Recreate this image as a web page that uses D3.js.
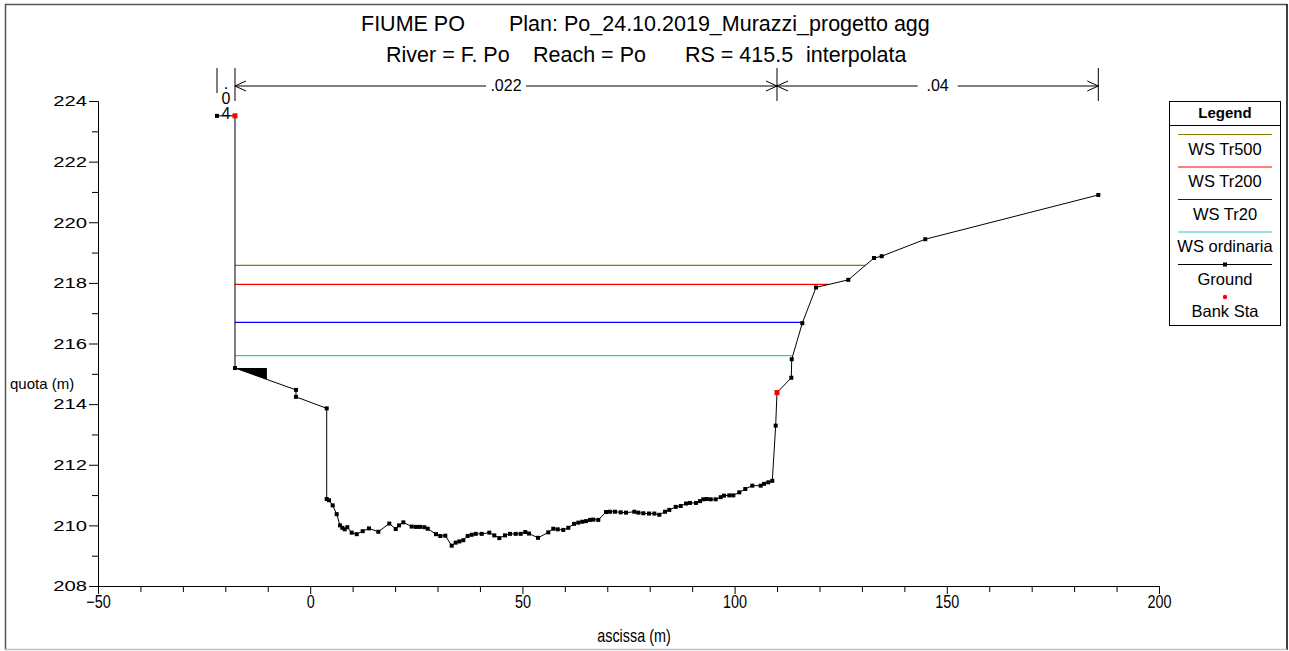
<!DOCTYPE html>
<html>
<head>
<meta charset="utf-8">
<script src="https://cdn.jsdelivr.net/npm/d3@7"></script>
<style>
  body { margin: 0; background: #fff; }
  svg { font-family: "Liberation Sans", Arial, sans-serif; }
</style>
</head>
<body>
<div id="chart"></div>
<script>
// ground profile (station, elevation)
const groundX = [-21.96, -17.72, -17.72, -3.35, -3.35, 3.89, 3.89, 4.43, 5.30, 6.24, 7.02, 7.56, 8.13, 8.74, 9.78, 10.96,
  12.37, 13.85, 16.05, 18.64, 20.15, 20.92, 21.94, 23.92, 24.93, 25.87, 26.89, 27.69, 29.64, 30.66, 31.83, 33.34,
  34.28, 35.13, 36.07, 37.11, 38.05, 39.00, 40.41, 42.20, 43.38, 44.56, 45.90, 47.08, 48.42, 49.60, 50.68, 51.56,
  53.68, 56.10, 57.28, 58.32, 59.64, 60.82, 62.16, 63.17, 64.11, 64.99, 65.93, 66.71, 67.88, 69.70, 70.64, 71.82,
  73.16, 74.41, 76.37, 77.31, 78.49, 79.83, 81.08, 82.26, 83.60, 84.61, 86.12, 87.30, 88.55, 89.49, 90.90, 91.85,
  92.62, 93.43, 94.37, 95.55, 96.72, 97.50, 98.75, 99.69, 101.11, 102.52, 104.17, 106.15, 106.93, 107.94, 108.88,
  109.68, 109.99, 113.36, 113.46, 115.95, 119.18, 126.79, 132.85, 134.66, 144.93, 185.70];
const groundY = [223.51, 223.51, 215.19, 214.47, 214.24, 213.86, 210.87, 210.83, 210.66, 210.37, 210.00, 209.92, 209.87, 209.94, 209.76, 209.71,
  209.81, 209.90, 209.79, 210.06, 209.88, 210.00, 210.10, 209.96, 209.95, 209.95, 209.94, 209.89, 209.71, 209.65, 209.66, 209.33,
  209.43, 209.47, 209.51, 209.65, 209.69, 209.72, 209.72, 209.76, 209.67, 209.58, 209.67, 209.72, 209.72, 209.72, 209.78, 209.73,
  209.59, 209.77, 209.89, 209.87, 209.85, 209.92, 210.05, 210.09, 210.12, 210.14, 210.18, 210.19, 210.18, 210.44, 210.45, 210.45,
  210.43, 210.42, 210.45, 210.42, 210.40, 210.39, 210.39, 210.35, 210.45, 210.51, 210.61, 210.64, 210.72, 210.74, 210.74, 210.80,
  210.86, 210.87, 210.86, 210.86, 210.93, 210.98, 210.99, 210.99, 211.09, 211.20, 211.31, 211.31, 211.37, 211.42, 211.47,
  213.29, 214.38, 214.87, 215.48, 216.67, 217.85, 218.10, 218.82, 218.88, 219.44, 220.90];

const bankX = [-17.72, 109.99];
const bankY = [223.51, 214.38];

const wsNames = ["WS Tr500", "WS Tr200", "WS Tr20", "WS ordinaria"];
const wsElev = [218.58, 217.95, 216.70, 215.60];

// Manning's n
const nStations = [-21.96, -17.72, 109.99, 185.70];
const nValues = [".04", ".022", ".04"];

// blocked obstruction (left overbank)
const blockX = [-17.72, -10.2];
const blockElev = 215.19;

const xTicks = [-50, 0, 50, 100, 150, 200];
const yTicks = [208, 210, 212, 214, 216, 218, 220, 222, 224];

const wsColors = ["#808000", "#ff0000", "#0000ff", "#30c8c8"];

const W = 1289, H = 651;
const svg = d3.select("#chart").append("svg").attr("width", W).attr("height", H);

// frame
svg.append("line").attr("x1", 5).attr("y1", 4.5).attr("x2", 1287).attr("y2", 4.5).attr("stroke", "#555").attr("stroke-width", 1.5);
svg.append("line").attr("x1", 5.5).attr("y1", 4).attr("x2", 5.5).attr("y2", 650).attr("stroke", "#555").attr("stroke-width", 1.5);
svg.append("line").attr("x1", 1287).attr("y1", 4).attr("x2", 1287).attr("y2", 650).attr("stroke", "#000").attr("stroke-width", 1.5);
svg.append("line").attr("x1", 5).attr("y1", 649.5).attr("x2", 1287).attr("y2", 649.5).attr("stroke", "#c0c0c0").attr("stroke-width", 1.5);

const x = d3.scaleLinear().domain([-50, 200]).range([98, 1159]);
const y = d3.scaleLinear().domain([208, 224]).range([586, 101]);

// title
const t1 = svg.append("text").attr("y", 31).style("font-size", "21.5px").attr("fill", "#000");
t1.append("tspan").attr("x", 361).text("FIUME PO");
t1.append("tspan").attr("x", 509).text("Plan: Po_24.10.2019_Murazzi_progetto agg");
const t2 = svg.append("text").attr("y", 62).style("font-size", "21.5px").attr("fill", "#000");
t2.append("tspan").attr("x", 386).text("River = F. Po");
t2.append("tspan").attr("x", 533).text("Reach = Po");
t2.append("tspan").attr("x", 685).text("RS = 415.5");
t2.append("tspan").attr("x", 806).text("interpolata");

// axes
const yAxis = svg.append("g").attr("transform", "translate(98,0)")
  .call(d3.axisLeft(y).tickValues(yTicks).tickFormat(d3.format("d")).tickSize(9).tickSizeOuter(0));
svg.append("g").attr("transform", "translate(98,0)")
  .call(d3.axisLeft(y).tickValues(d3.range(209, 224, 2)).tickFormat("").tickSize(6).tickSizeOuter(0));
yAxis.selectAll("text").style("font-size", "15px").attr("fill", "#000")
  .attr("x", -11 / 1.35).attr("transform", "scale(1.35,1)");

const xAxis = svg.append("g").attr("transform", "translate(0,586)")
  .call(d3.axisBottom(x).tickValues(xTicks).tickFormat(d3.format("d")).tickSize(8).tickSizeOuter(0));
svg.append("g").attr("transform", "translate(0,586)")
  .call(d3.axisBottom(x).tickValues(d3.range(-40, 200, 10).filter(v => v % 50 !== 0)).tickFormat("").tickSize(6).tickSizeOuter(0));
xAxis.selectAll(".tick text").style("font-size", "18px").attr("fill", "#000").attr("y", 9)
  .attr("transform", "scale(0.8,1)");
svg.selectAll(".domain").attr("stroke", "#000");
svg.selectAll(".tick line").attr("stroke", "#000");

svg.append("text").attr("transform", "translate(634,642) scale(0.8,1)").attr("text-anchor", "middle")
  .style("font-size", "18px").text("ascissa (m)");
svg.append("text").attr("x", 10).attr("y", 389).style("font-size", "15px").text("quota (m)");

// water surfaces
const ground = groundX.map((v, i) => [v, groundY[i]]);
const iMin = d3.minIndex(groundY);
function crossing(elev, dir) {
  let i = iMin;
  while (i + dir >= 0 && i + dir < ground.length && ground[i + dir][1] < elev) i += dir;
  const a = ground[i], b = ground[i + dir];
  if (!b) return a[0];
  const t = (elev - a[1]) / (b[1] - a[1]);
  return a[0] + t * (b[0] - a[0]);
}
wsElev.forEach((e, k) => {
  const xl = crossing(e, -1), xr = crossing(e, 1);
  svg.append("line").attr("x1", x(xl)).attr("x2", x(xr)).attr("y1", y(e)).attr("y2", y(e))
    .attr("stroke", wsColors[k]).attr("stroke-width", 1.2);
});

// blocked obstruction
function groundAt(v) {
  for (let i = 1; i < ground.length; i++) {
    const a = ground[i - 1], b = ground[i];
    if (v >= a[0] && v <= b[0] && b[0] > a[0]) return a[1] + (v - a[0]) / (b[0] - a[0]) * (b[1] - a[1]);
  }
  return null;
}
svg.append("path")
  .attr("d", d3.line()([[x(blockX[0]), y(blockElev)], [x(blockX[1]), y(blockElev)], [x(blockX[1]), y(groundAt(blockX[1]))], [x(blockX[0]), y(groundAt(blockX[0] + 0.001))]]) + "Z")
  .attr("fill", "#000");

// ground
svg.append("path").datum(ground)
  .attr("d", d3.line().x(d => x(d[0])).y(d => y(d[1])))
  .attr("fill", "none").attr("stroke", "#000").attr("stroke-width", 1);
svg.selectAll(".gpt").data(ground).enter().append("rect")
  .attr("x", d => x(d[0]) - 2).attr("y", d => y(d[1]) - 2).attr("width", 4).attr("height", 4).attr("fill", "#000");
svg.selectAll(".bank").data(bankX).enter().append("rect")
  .attr("x", d => x(d) - 2.5).attr("y", (d, i) => y(bankY[i]) - 2.5).attr("width", 5).attr("height", 5).attr("fill", "#ff0000");

// Manning's n dimension line
const dimY = 86;
nStations.forEach(s => {
  svg.append("line").attr("x1", x(s)).attr("x2", x(s)).attr("y1", 68).attr("y2", s === nStations[0] ? 93 : 101)
    .attr("stroke", "#000");
});
function arrowHead(px, dir) {
  svg.append("path").attr("d", `M${px - dir * 11},${dimY - 5}L${px},${dimY}L${px - dir * 11},${dimY + 5}`)
    .attr("fill", "none").attr("stroke", "#000");
}
nValues.forEach((n, i) => {
  const a = x(nStations[i]), b = x(nStations[i + 1]);
  if (b - a < 40) {
    const cx = (a + b) / 2;
    n.split("").forEach((ch, j) => {
      svg.append("text").attr("x", cx).attr("y", 89 + j * 15).attr("text-anchor", "middle")
        .style("font-size", "16px").text(ch);
    });
    return;
  }
  const cx = (a + b) / 2, gap = 20;
  svg.append("line").attr("x1", a).attr("x2", cx - gap).attr("y1", dimY).attr("y2", dimY).attr("stroke", "#000");
  svg.append("line").attr("x1", cx + gap).attr("x2", b).attr("y1", dimY).attr("y2", dimY).attr("stroke", "#000");
  arrowHead(a, -1);
  arrowHead(b, 1);
  svg.append("text").attr("x", cx).attr("y", dimY + 5).attr("text-anchor", "middle")
    .style("font-size", "16px").text(n);
});

// legend
const lg = svg.append("g");
lg.append("rect").attr("x", 1169.5).attr("y", 101.5).attr("width", 111).attr("height", 224)
  .attr("fill", "#fff").attr("stroke", "#000");
lg.append("line").attr("x1", 1169.5).attr("x2", 1280.5).attr("y1", 125.5).attr("y2", 125.5).attr("stroke", "#000");
lg.append("text").attr("x", 1225).attr("y", 118).attr("text-anchor", "middle")
  .style("font-size", "15px").style("font-weight", "bold").text("Legend");
const legItems = wsNames.concat(["Ground", "Bank Sta"]);
legItems.forEach((name, i) => {
  const ly = 134.5 + i * 32.5;
  if (i < wsNames.length) {
    lg.append("line").attr("x1", 1178).attr("x2", 1272).attr("y1", ly).attr("y2", ly)
      .attr("stroke", wsColors[i]).attr("stroke-width", 1.2);
  } else if (name === "Ground") {
    lg.append("line").attr("x1", 1178).attr("x2", 1272).attr("y1", ly).attr("y2", ly).attr("stroke", "#000");
    lg.append("rect").attr("x", 1223).attr("y", ly - 2).attr("width", 4).attr("height", 4).attr("fill", "#000");
  } else {
    lg.append("circle").attr("cx", 1225).attr("cy", ly).attr("r", 2.2).attr("fill", "#ff0000");
  }
  lg.append("text").attr("x", 1225).attr("y", ly + 20).attr("text-anchor", "middle")
    .style("font-size", "16.5px").text(name);
});
</script>
</body>
</html>
